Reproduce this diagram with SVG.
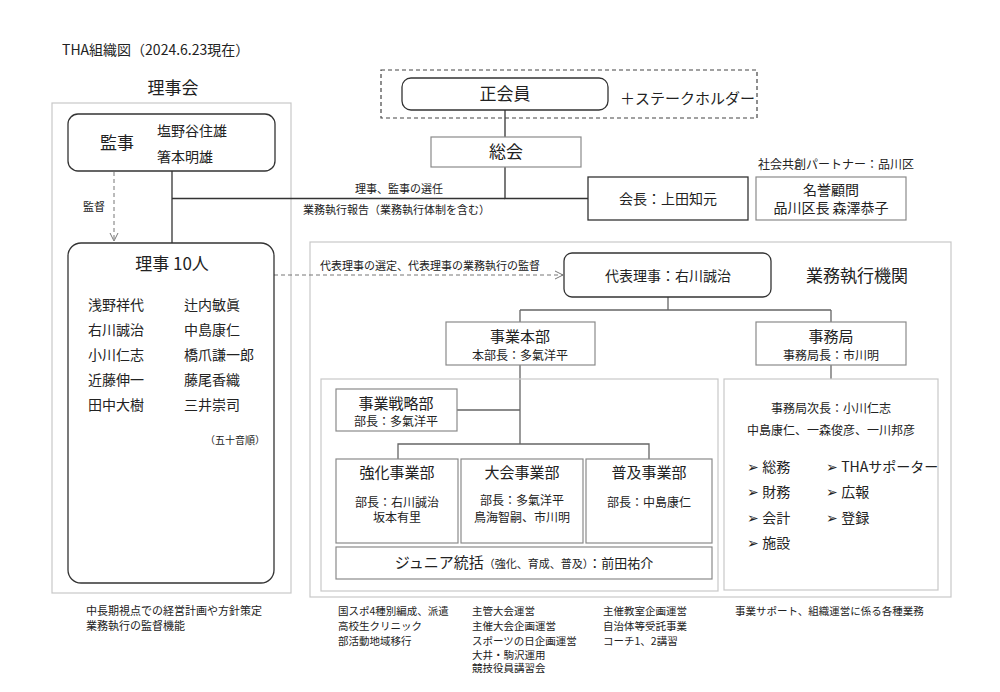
<svg xmlns="http://www.w3.org/2000/svg" width="1000" height="692" viewBox="0 0 1000 692">
<defs>
<style>
text{font-family:"Noto Sans CJK JP","Noto Sans",sans-serif;fill:#222;}
.t17{font-size:17px;}
.t15{font-size:15px;}
.t14{font-size:14px;}
.t13{font-size:13px;}
.t12{font-size:12px;}
.t11{font-size:11px;}
.t10{font-size:10px;}
.t105{font-size:10.5px;}
.mid{text-anchor:middle;}
.outer{fill:none;stroke:#c8c8c8;stroke-width:1.2;}
.dark{fill:#fff;stroke:#333;stroke-width:1.3;}
.gray{fill:#fff;stroke:#8a8a8a;stroke-width:1.2;}
.ln{fill:none;stroke:#333;stroke-width:1.3;}
.lg{fill:none;stroke:#666;stroke-width:1.3;}
.dash{fill:none;stroke:#777;stroke-width:1;stroke-dasharray:4 3;}
</style>
<marker id="open" viewBox="0 0 10 10" refX="9" refY="5" markerWidth="10" markerHeight="10" markerUnits="userSpaceOnUse" orient="auto">
<path d="M1,1 L9,5 L1,9" fill="none" stroke="#777" stroke-width="1"/>
</marker>
</defs>
<rect width="1000" height="692" fill="#fff"/>

<text x="62" y="55" style="font-size:14px">THA組織図（2024.6.23現在）</text>

<g id="group-rijikai">
<text class="t17 mid" x="173" y="94">理事会</text>
<rect class="outer" x="52" y="103" width="239" height="490"/>
</g>

<g id="group-gyomu">
<rect class="outer" x="310" y="242" width="641" height="355"/>
<text class="t17" x="806" y="282">業務執行機関</text>
</g>

<g id="connectors">
<path class="ln" d="M505,110 V137"/>
<path class="ln" d="M505,167 V198.5 H588"/>
<path class="ln" d="M172,171 V243"/>
<path class="ln" d="M172,198.5 H505"/>
<path class="dash" d="M114,172 V241" marker-end="url(#open)"/>
<path class="dash" d="M274,275 H563" marker-end="url(#open)"/>
<path class="lg" d="M668,297 V310 M520,310 H831 M520,310 V322 M831,310 V322"/>
<path class="lg" d="M520,365 V444 M457,410 H520"/>
<path class="lg" d="M398,459 V444 H649 V459"/>
<path class="lg" d="M831,365 V379"/>
</g>

<g id="label-kantoku"><text class="t11" x="83" y="211">監督</text></g>
<g id="label-senin"><text class="t11 mid" x="399" y="193">理事、監事の選任</text></g>
<g id="label-hokoku"><text class="t11" x="303" y="214">業務執行報告（業務執行体制を含む）</text></g>
<g id="label-sentei"><text class="t11" x="320" y="270">代表理事の選定、代表理事の業務執行の監督</text></g>

<g id="node-stakeholder">
<rect x="381" y="70" width="376" height="48" fill="none" stroke="#444" stroke-width="1.2" stroke-dasharray="4 3"/>
<text class="t15" x="620" y="104">＋ステークホルダー</text>
</g>

<g id="node-seikaiin">
<rect class="dark" x="402" y="78" width="206" height="32" rx="9"/>
<text class="t17 mid" x="505" y="100">正会員</text>
</g>

<g id="node-sokai">
<rect class="gray" x="431" y="137" width="150" height="30"/>
<text class="t17 mid" x="506" y="158">総会</text>
</g>

<g id="node-kaicho">
<rect class="dark" x="588" y="177" width="160" height="43"/>
<text class="t14 mid" x="668" y="204">会長：上田知元</text>
</g>

<g id="node-partner">
<text class="t12" x="758" y="169">社会共創パートナー：品川区</text>
</g>

<g id="node-meiyo">
<rect class="gray" x="756" y="177" width="150" height="43"/>
<text class="t14 mid" x="831" y="195">名誉顧問</text>
<text class="t14 mid" x="831" y="213">品川区長 森澤恭子</text>
</g>

<g id="node-kanji">
<rect class="dark" x="68" y="114" width="207" height="57" rx="10"/>
<text class="t17" x="100" y="149">監事</text>
<text class="t14" x="157" y="136">塩野谷住雄</text>
<text class="t14" x="157" y="162">箸本明雄</text>
</g>

<g id="node-riji">
<rect class="dark" x="68" y="243" width="206" height="340" rx="13"/>
<text class="t17 mid" x="172" y="270">理事 10人</text>
<text class="t14" x="88" y="310">浅野祥代</text>
<text class="t14" x="88" y="335">右川誠治</text>
<text class="t14" x="88" y="360">小川仁志</text>
<text class="t14" x="88" y="385">近藤伸一</text>
<text class="t14" x="88" y="410">田中大樹</text>
<text class="t14" x="184" y="310">辻内敏眞</text>
<text class="t14" x="184" y="335">中島康仁</text>
<text class="t14" x="184" y="360">橋爪謙一郎</text>
<text class="t14" x="184" y="385">藤尾香織</text>
<text class="t14" x="184" y="410">三井崇司</text>
<text class="t10" x="205" y="444">（五十音順）</text>
</g>

<g id="node-daihyo">
<rect class="dark" x="564" y="253" width="207" height="44" rx="8"/>
<text class="t14 mid" x="668" y="281">代表理事：右川誠治</text>
</g>

<g id="node-jigyohonbu">
<rect class="gray" x="446" y="322" width="149" height="43"/>
<text class="t15 mid" x="520" y="342">事業本部</text>
<text class="t12 mid" x="520" y="360">本部長：多氣洋平</text>
</g>

<g id="node-jimukyoku">
<rect class="gray" x="756" y="322" width="150" height="43"/>
<text class="t15 mid" x="831" y="342">事務局</text>
<text class="t12 mid" x="831" y="360">事務局長：市川明</text>
</g>

<g id="group-jigyo-inner">
<rect class="outer" x="321" y="379" width="397" height="212"/>
</g>

<g id="node-senryaku">
<rect class="gray" x="336" y="389" width="121" height="42"/>
<text class="t15 mid" x="396" y="409">事業戦略部</text>
<text class="t12 mid" x="396" y="426">部長：多氣洋平</text>
</g>

<g id="node-kyoka">
<rect class="gray" x="336" y="459" width="122" height="84"/>
<text class="t15 mid" x="397" y="478">強化事業部</text>
<text class="t12 mid" x="397" y="507">部長：右川誠治</text>
<text class="t12 mid" x="397" y="522">坂本有里</text>
</g>

<g id="node-taikai">
<rect class="gray" x="461" y="459" width="122" height="84"/>
<text class="t15 mid" x="522" y="478">大会事業部</text>
<text class="t12 mid" x="522" y="505">部長：多氣洋平</text>
<text class="t12 mid" x="522" y="522">鳥海智嗣、市川明</text>
</g>

<g id="node-fukyu">
<rect class="gray" x="586" y="459" width="126" height="84"/>
<text class="t15 mid" x="649" y="478">普及事業部</text>
<text class="t12 mid" x="649" y="507">部長：中島康仁</text>
</g>

<g id="node-junior">
<rect class="gray" x="336" y="547" width="376" height="32"/>
<text class="mid" x="524" y="568"><tspan class="t15">ジュニア統括</tspan><tspan class="t11">（強化、育成、普及）</tspan><tspan class="t13">：前田祐介</tspan></text>
</g>

<g id="group-jimu-inner">
<rect class="outer" x="724" y="379" width="214" height="211"/>
<text class="t12 mid" x="831" y="413">事務局次長：小川仁志</text>
<text class="t12 mid" x="831" y="435">中島康仁、一森俊彦、一川邦彦</text>
<text class="t14" x="747" y="472">➢ 総務</text>
<text class="t14" x="747" y="497">➢ 財務</text>
<text class="t14" x="747" y="523">➢ 会計</text>
<text class="t14" x="747" y="548">➢ 施設</text>
<text class="t14" x="826" y="472">➢ THAサポーター</text>
<text class="t14" x="826" y="497">➢ 広報</text>
<text class="t14" x="826" y="523">➢ 登録</text>
</g>

<g id="notes">
<text class="t11" x="86" y="615">中長期視点での経営計画や方針策定</text>
<text class="t11" x="86" y="630">業務執行の監督機能</text>
<text class="t105" x="338" y="615">国スポ4種別編成、派遣</text>
<text class="t105" x="338" y="630">高校生クリニック</text>
<text class="t105" x="338" y="645">部活動地域移行</text>
<text class="t105" x="472" y="615">主管大会運営</text>
<text class="t105" x="472" y="630">主催大会企画運営</text>
<text class="t105" x="472" y="645">スポーツの日企画運営</text>
<text class="t105" x="472" y="659">大井・駒沢運用</text>
<text class="t105" x="472" y="672">競技役員講習会</text>
<text class="t105" x="603" y="615">主催教室企画運営</text>
<text class="t105" x="603" y="630">自治体等受託事業</text>
<text class="t105" x="603" y="645">コーチ1、2講習</text>
<text class="t105" x="735" y="615">事業サポート、組織運営に係る各種業務</text>
</g>
</svg>
